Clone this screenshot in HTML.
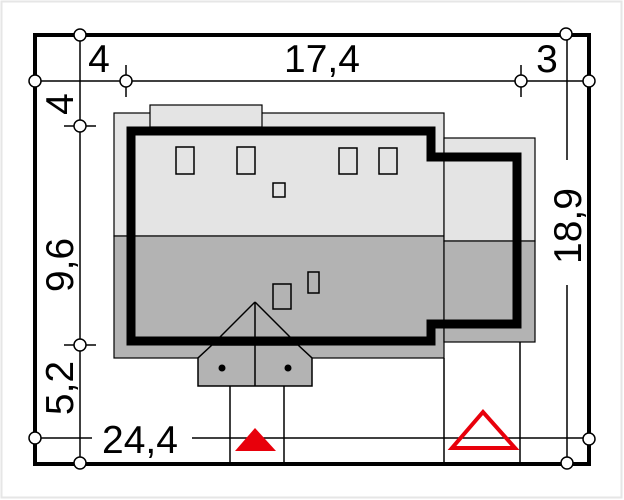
<!DOCTYPE html>
<html><head><style>
html,body{margin:0;padding:0;background:#fff}
svg{display:block}
text{font-family:"Liberation Sans",sans-serif;font-size:39px;fill:#000}
</style></head><body>
<svg width="624" height="500" viewBox="0 0 624 500">
<rect x="1.5" y="1.5" width="620" height="496" fill="#fff" stroke="#e6e6e6" stroke-width="2"/>
<rect x="35" y="35" width="554" height="429" fill="none" stroke="#000" stroke-width="4"/>
<g stroke="#000" stroke-width="1.5" fill="none">
<line x1="35" y1="81" x2="589" y2="81"/>
<line x1="80" y1="35" x2="80" y2="463"/>
<line x1="567" y1="35" x2="567" y2="160"/>
<line x1="567" y1="285" x2="567" y2="463"/>
<line x1="35" y1="438" x2="92" y2="438"/>
<line x1="192" y1="438" x2="589" y2="438"/>
<line x1="126" y1="65" x2="126" y2="97"/>
<line x1="521" y1="65" x2="521" y2="97"/>
<line x1="64" y1="126" x2="96" y2="126"/>
<line x1="64" y1="345" x2="96" y2="345"/>
<line x1="230" y1="386" x2="230" y2="463"/>
<line x1="284" y1="386" x2="284" y2="463"/>
<line x1="444" y1="358" x2="444" y2="463"/>
<line x1="520" y1="342" x2="520" y2="463"/>
</g>
<g stroke="#000" stroke-width="1.2">
<rect x="114" y="113" width="330" height="123" fill="#e4e4e4"/>
<rect x="114" y="236" width="330" height="122" fill="#b3b3b3"/>
<rect x="444" y="138" width="91" height="103" fill="#e4e4e4"/>
<rect x="444" y="241" width="91" height="101" fill="#b3b3b3"/>
<rect x="150" y="105" width="112" height="22" fill="#e4e4e4"/>
</g>
<path d="M131 131 H431 V157 H517 V324 H431 V341 H131 Z" fill="none" stroke="#000" stroke-width="9"/>
<g fill="none" stroke="#000" stroke-width="1.5">
<rect x="176" y="147" width="18" height="27"/>
<rect x="237" y="147" width="18" height="27"/>
<rect x="339" y="148" width="18" height="26"/>
<rect x="379" y="148" width="18" height="26"/>
<rect x="273" y="183" width="12" height="14"/>
<rect x="273" y="284" width="18" height="25"/>
<rect x="308" y="272" width="11" height="21"/>
</g>
<polygon points="198,386 198,358 212,345 298,345 312,358 312,386" fill="#b3b3b3" stroke="#000" stroke-width="1.5"/>
<g stroke="#000" stroke-width="1.5" fill="none">
<line x1="255" y1="302" x2="212" y2="345"/>
<line x1="255" y1="302" x2="298" y2="345"/>
<line x1="255" y1="302" x2="255" y2="386"/>
</g>
<circle cx="222" cy="368" r="3.5" fill="#000"/>
<circle cx="288" cy="368" r="3.5" fill="#000"/>
<polygon points="235,451 276,451 255,428" fill="#e8000b"/>
<polygon points="452,448 515,448 483,412" fill="none" stroke="#e8000b" stroke-width="4"/>
<g fill="#fff" stroke="#000" stroke-width="1.5">
<circle cx="80" cy="35" r="6"/>
<circle cx="35" cy="81" r="6"/>
<circle cx="126" cy="81" r="6"/>
<circle cx="80" cy="126" r="6"/>
<circle cx="80" cy="345" r="6"/>
<circle cx="35" cy="438" r="6"/>
<circle cx="80" cy="463" r="6"/>
<circle cx="566" cy="34" r="6"/>
<circle cx="589" cy="81" r="6"/>
<circle cx="521" cy="81" r="6"/>
<circle cx="589" cy="439" r="6"/>
<circle cx="567" cy="463" r="6"/>
</g>
<text x="99" y="72" text-anchor="middle">4</text>
<text x="322" y="72" text-anchor="middle">17,4</text>
<text x="547" y="72" text-anchor="middle">3</text>
<text x="140" y="453" text-anchor="middle">24,4</text>
<text transform="translate(73,104) rotate(-90)" text-anchor="middle">4</text>
<text transform="translate(73,265) rotate(-90)" text-anchor="middle">9,6</text>
<text transform="translate(73,388) rotate(-90)" text-anchor="middle">5,2</text>
<text transform="translate(581,226) rotate(-90)" text-anchor="middle">18,9</text>
</svg>
</body></html>
